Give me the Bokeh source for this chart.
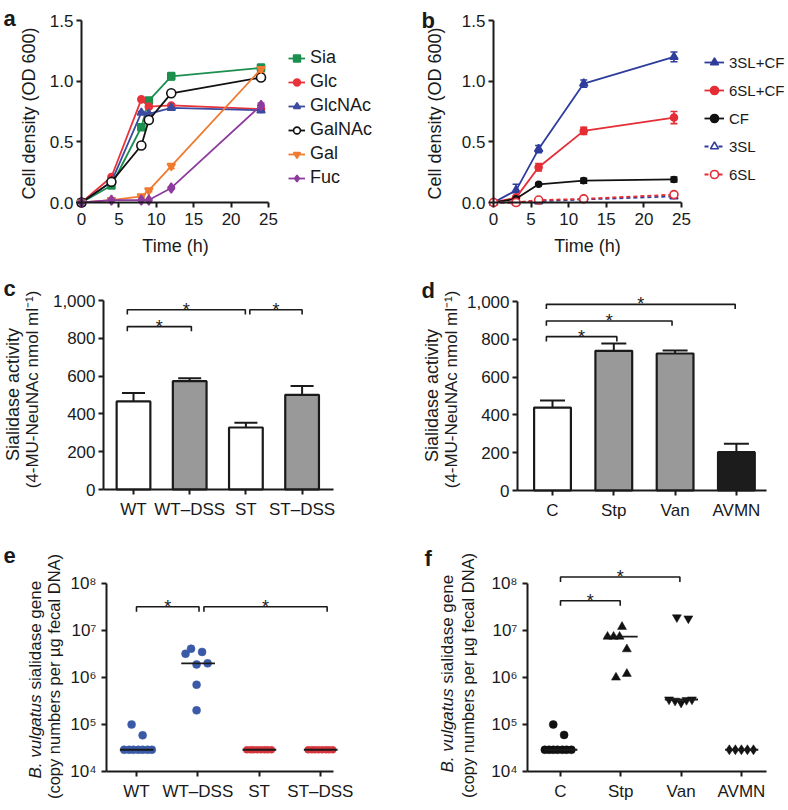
import math
from bokeh.plotting import figure
from bokeh.layouts import column, row
from bokeh.models import (ColumnDataSource, Whisker, TeeHead, Legend, LegendItem, Label,
                          FixedTicker, NumeralTickFormatter, Range1d)
from bokeh.embed import file_html
from bokeh.resources import INLINE
from bokeh.core.properties import value

FONT = "Liberation Sans"
INK = "#1a1a1a"
TICK_PX = "17px"
LAB_PX = "18px"

# ---------------- data: panel a ----------------
a_time = [0, 4, 8, 9, 12, 24]
a_sia = [0, 0.14, 0.62, 0.84, 1.04, 1.11]
a_sia_err = [0, 0.01, 0.02, 0.02, 0.03, 0.03]
a_glc = [0, 0.21, 0.85, 0.79, 0.80, 0.77]
a_glc_err = [0, 0.01, 0.01, 0.01, 0.01, 0.01]
a_glcnac = [0, 0.17, 0.74, 0.73, 0.78, 0.76]
a_glcnac_err = [0, 0.01, 0.01, 0.01, 0.01, 0.01]
a_galnac = [0, 0.17, 0.47, 0.68, 0.90, 1.03]
a_galnac_err = [0, 0.01, 0.01, 0.01, 0.01, 0.01]
a_gal = [0, 0.02, 0.05, 0.10, 0.30, 1.10]
a_gal_err = [0, 0.0, 0.01, 0.01, 0.02, 0.03]
a_fuc = [0, 0.02, 0.02, 0.02, 0.12, 0.80]
a_fuc_err = [0, 0.0, 0.0, 0.0, 0.01, 0.02]

# ---------------- data: panel b ----------------
b_time = [0, 3, 6, 12, 24]
b_3slcf = [0, 0.10, 0.44, 0.98, 1.20]
b_3slcf_err = [0, 0.05, 0.03, 0.03, 0.04]
b_6slcf = [0, 0.04, 0.29, 0.59, 0.70]
b_6slcf_err = [0, 0.01, 0.03, 0.03, 0.05]
b_cf = [0, 0.03, 0.15, 0.18, 0.19]
b_cf_err = [0, 0.0, 0.01, 0.02, 0.02]
b_3sl = [0, 0.0, 0.01, 0.025, 0.05]
b_3sl_err = [0, 0.0, 0.0, 0.005, 0.01]
b_6sl = [0, 0.0, 0.02, 0.03, 0.065]
b_6sl_err = [0, 0.0, 0.0, 0.01, 0.01]

# ---------------- data: panel c ----------------
c_groups = ["WT", "WT\u2013DSS", "ST", "ST\u2013DSS"]
c_mean = [466, 573, 328, 501]
c_err = [45, 16, 25, 46]
c_sig_from = [0, 0, 2]
c_sig_to = [1, 2, 3]
c_sig_y = [862, 951, 951]

# ---------------- data: panel d ----------------
d_groups = ["C", "Stp", "Van", "AVMN"]
d_mean = [439, 739, 725, 203]
d_err = [37, 39, 16, 44]
d_sig_from = [0, 0, 0]
d_sig_to = [1, 2, 3]
d_sig_y = [814, 897, 985]

# ---------------- data: panel e ----------------
e_groups = ["WT", "WT\u2013DSS", "ST", "ST\u2013DSS"]
e_wt = [1.0e5, 5.9e4, 2.9e4, 2.9e4, 2.9e4, 2.9e4, 2.9e4, 2.9e4, 2.9e4]
e_wt_jit = [-0.08, 0.10, -0.20, -0.12, -0.05, 0.03, 0.10, 0.18, 0.25]
e_wtdss = [3.2e6, 4.1e6, 3.5e6, 1.9e6, 2.0e6, 7.0e5, 2.0e5]
e_wtdss_jit = [-0.20, -0.11, 0.07, -0.02, 0.16, -0.02, -0.02]
e_st = [2.9e4, 2.9e4, 2.9e4, 2.9e4, 2.9e4, 2.9e4, 2.9e4, 2.9e4]
e_st_jit = [-0.20, -0.14, -0.09, -0.03, 0.03, 0.09, 0.14, 0.20]
e_stdss = [2.9e4, 2.9e4, 2.9e4, 2.9e4, 2.9e4, 2.9e4, 2.9e4, 2.9e4]
e_stdss_jit = [-0.20, -0.14, -0.09, -0.03, 0.03, 0.09, 0.14, 0.20]
e_median = [2.9e4, 2.0e6, 2.9e4, 2.9e4]
e_sig_from = [0, 1]
e_sig_to = [1, 3]
e_sig_y = [3.2e7, 3.2e7]

# ---------------- data: panel f ----------------
f_groups = ["C", "Stp", "Van", "AVMN"]
f_c = [1.0e5, 6.0e4, 2.9e4, 2.9e4, 2.9e4, 2.9e4, 2.9e4, 2.9e4, 2.9e4]
f_c_jit = [-0.12, 0.06, -0.26, -0.19, -0.12, -0.05, 0.03, 0.10, 0.18]
f_stp = [1.2e7, 7.4e6, 7.4e6, 7.4e6, 4.0e6, 1.0e6, 1.2e6]
f_stp_jit = [0.02, -0.22, -0.12, -0.02, 0.10, -0.08, 0.10]
f_van = [1.9e7, 1.8e7, 3.4e5, 3.2e5, 2.9e5, 3.3e5, 3.4e5]
f_van_jit = [-0.07, 0.12, -0.20, -0.10, 0.0, 0.09, 0.18]
f_avmn = [2.9e4, 2.9e4, 2.9e4, 2.9e4, 2.9e4]
f_avmn_jit = [-0.20, -0.10, 0.0, 0.10, 0.20]
f_median = [2.9e4, 7.4e6, 3.4e5, 2.9e4]
f_sig_from = [0, 0]
f_sig_to = [1, 2]
f_sig_y = [4.3e7, 1.38e8]

ROT = math.pi / 2


def span_x(v0, p0, v1, p1, size):
    s = (p1 - p0) / (v1 - v0)
    return (v0 - p0 / s, v0 + (size - p0) / s)


def span_y(v0, p0, v1, p1, size):
    # p0, p1: pixel rows (from top) of values v0 < v1
    s = (p0 - p1) / (v1 - v0)
    return (v0 - (size - p0) / s, v0 + p0 / s)


def span_ylog(v0, p0, v1, p1, size):
    lo, hi = span_y(math.log10(v0), p0, math.log10(v1), p1, size)
    return (10 ** lo, 10 ** hi)


def quad(w, h, xr, yr, x_at, y_at, xb, yb, ylog=False):
    p = figure(width=w, height=h, x_range=Range1d(*xr), y_range=Range1d(*yr),
               y_axis_type="log" if ylog else "linear",
               output_backend="svg", toolbar_location=None,
               min_border_left=0, min_border_right=0, min_border_top=0, min_border_bottom=0)
    p.title.visible = False
    p.xgrid.visible = False
    p.ygrid.visible = False
    p.outline_line_color = None
    p.background_fill_color = "white"
    p.border_fill_color = "white"
    xa, ya = p.xaxis[0], p.yaxis[0]
    xa.fixed_location = x_at
    ya.fixed_location = y_at
    xa.bounds = xb
    ya.bounds = yb
    for ax in (xa, ya):
        ax.axis_line_width = 2
        ax.axis_line_color = INK
        ax.major_tick_line_width = 2
        ax.major_tick_line_color = INK
        ax.major_tick_in = 0
        ax.major_tick_out = 5
        ax.minor_tick_line_color = None
        ax.major_label_text_font = FONT
        ax.major_label_text_font_size = TICK_PX
        ax.major_label_text_color = INK
    return p


def put(p, h, text, sx, sy, size=LAB_PX, align="left", baseline="alphabetic",
        angle=0.0, style="normal"):
    p.add_layout(Label(x=sx, y=h - sy, x_units="screen", y_units="screen",
                       text=text, text_font=FONT, text_font_size=size,
                       text_align=align, text_baseline=baseline, angle=angle,
                       text_font_style=style, text_color=INK))


def series(p, x, y, err, color, marker, size, fill, dash="solid"):
    src = ColumnDataSource(dict(x=x, y=y))
    ln = p.line("x", "y", source=src, line_color=color, line_width=1.8, line_dash=dash)
    ex = [xi for xi, e in zip(x, err) if e > 0]
    lo = [yi - e for yi, e in zip(y, err) if e > 0]
    hi = [yi + e for yi, e in zip(y, err) if e > 0]
    if ex:
        esrc = ColumnDataSource(dict(x=ex, lo=lo, hi=hi))
        p.add_layout(Whisker(source=esrc, base="x", lower="lo", upper="hi",
                             line_color=color, line_width=1.6,
                             upper_head=TeeHead(size=7, line_color=color, line_width=1.6),
                             lower_head=TeeHead(size=7, line_color=color, line_width=1.6)))
    sc = p.scatter("x", "y", source=src, marker=marker, size=size, fill_color=fill,
                   line_color=color, line_width=1.6)
    return [ln, sc]


def brackets(p, x0s, x1s, ys, tip, log=False):
    xs, yy = [], []
    for a, b, y in zip(x0s, x1s, ys):
        yt = y / (10 ** tip) if log else y - tip
        xs.append([a, a, b, b])
        yy.append([yt, y, y, yt])
    p.multi_line(xs, yy, line_color=INK, line_width=1.6)
    p.text(x=[(a + b) / 2 for a, b in zip(x0s, x1s)], y=ys, text=["*"] * len(ys),
           text_font=value(FONT), text_font_size=value("18px"), text_color=INK,
           text_align="center", text_baseline="alphabetic", y_offset=0)


def style_cat_axis(p, labels, standoff=5):
    p.xaxis.ticker = FixedTicker(ticks=list(range(len(labels))))
    p.xaxis.major_label_overrides = {i: lab for i, lab in enumerate(labels)}
    p.xaxis.major_label_standoff = standoff


def make_legend(items, loc, spacing, size, glyph_w):
    return Legend(items=[LegendItem(label=l, renderers=r) for l, r in items],
                  location=loc, padding=0, margin=0, spacing=spacing,
                  glyph_width=glyph_w, glyph_height=20, label_height=20, label_standoff=5,
                  label_text_font=FONT, label_text_font_size=size, label_text_color=INK,
                  border_line_color=None, background_fill_alpha=0)


WL, WR = 394, 392
H1, H2, H3 = 270, 270, 268

# ================= panel a =================
pa = quad(WL, H1, span_x(0, 81, 25, 268, WL), span_y(0, 202, 1.5, 20, H1),
          0, 0, (0, 25), (0, 1.5))
pa.xaxis.ticker = FixedTicker(ticks=[0, 5, 10, 15, 20, 25])
pa.yaxis.ticker = FixedTicker(ticks=[0, 0.5, 1.0, 1.5])
pa.yaxis.formatter = NumeralTickFormatter(format="0.0")
pa.xaxis.major_label_standoff = 5
pa.yaxis.major_label_standoff = 3
items_a = [
    ("Sia", series(pa, a_time, a_sia, a_sia_err, "#1b8f4e", "square", 7, "#1b8f4e")),
    ("Glc", series(pa, a_time, a_glc, a_glc_err, "#e8333b", "circle", 7, "#e8333b")),
    ("GlcNAc", series(pa, a_time, a_glcnac, a_glcnac_err, "#3b4ba0", "triangle", 8, "#3b4ba0")),
    ("GalNAc", series(pa, a_time, a_galnac, a_galnac_err, "#111111", "circle", 9, "white")),
    ("Gal", series(pa, a_time, a_gal, a_gal_err, "#f07a30", "inverted_triangle", 8, "#f07a30")),
    ("Fuc", series(pa, a_time, a_fuc, a_fuc_err, "#8e3b9e", "diamond", 10, "#8e3b9e")),
]
pa.add_layout(make_legend(items_a, (288, H1 - 188), 3, "18px", 17))
put(pa, H1, "a", 3, 18, size="22px", style="bold")
put(pa, H1, "Cell density (OD 600)", 28, 113, align="center", baseline="middle", angle=ROT)
put(pa, H1, "Time (h)", 175, 245, align="center", baseline="middle")

# ================= panel b =================
pb = quad(WR, H1, span_x(0, 99, 25, 287, WR), span_y(0, 202, 1.5, 20, H1),
          0, 0, (0, 25), (0, 1.5))
pb.xaxis.ticker = FixedTicker(ticks=[0, 5, 10, 15, 20, 25])
pb.yaxis.ticker = FixedTicker(ticks=[0, 0.5, 1.0, 1.5])
pb.yaxis.formatter = NumeralTickFormatter(format="0.0")
pb.xaxis.major_label_standoff = 5
pb.yaxis.major_label_standoff = 3
items_b = [
    ("3SL+CF", series(pb, b_time, b_3slcf, b_3slcf_err, "#2e3d9b", "triangle", 8, "#2e3d9b")),
    ("6SL+CF", series(pb, b_time, b_6slcf, b_6slcf_err, "#e52d35", "circle", 7, "#e52d35")),
    ("CF", series(pb, b_time, b_cf, b_cf_err, "#111111", "circle", 6, "#111111")),
    ("3SL", series(pb, b_time, b_3sl, b_3sl_err, "#2e3d9b", "triangle", 8, "white", dash="4 3")),
    ("6SL", series(pb, b_time, b_6sl, b_6sl_err, "#e52d35", "circle", 8, "white", dash="4 3")),
]
pb.add_layout(make_legend(items_b, (310, H1 - 184), 8, "15px", 20))
put(pb, H1, "b", 27, 20, size="22px", style="bold")
put(pb, H1, "Cell density (OD 600)", 40, 113, align="center", baseline="middle", angle=ROT)
put(pb, H1, "Time (h)", 193, 245, align="center", baseline="middle")

# ================= panel c =================
c_xr = span_x(0, 133, 1, 189.2, WL)
pc = quad(WL, H2, c_xr, span_y(0, 219, 1000, 30, H2), 0, -0.534, (-0.534, 3.55), (0, 1000))
pc.yaxis.ticker = FixedTicker(ticks=[0, 200, 400, 600, 800, 1000])
pc.yaxis.formatter = NumeralTickFormatter(format="0,0")
pc.yaxis.major_label_standoff = 3
style_cat_axis(pc, c_groups, 5)
c_x = list(range(len(c_groups)))
c_src = ColumnDataSource(dict(x=c_x, top=c_mean, hi=[m + e for m, e in zip(c_mean, c_err)],
                              fill=["white", "#999999", "white", "#999999"]))
pc.vbar(x="x", top="top", bottom=0, width=0.6, fill_color="fill", line_color=INK,
        line_width=2.2, source=c_src)
pc.add_layout(Whisker(source=c_src, base="x", lower="top", upper="hi", lower_head=None,
                      upper_head=TeeHead(size=23, line_color=INK, line_width=2),
                      line_color=INK, line_width=2))
brackets(pc, [f + d for f, d in zip(c_sig_from, [-0.11, -0.11, 0.07])],
         [t + d for t, d in zip(c_sig_to, [0.03, -0.01, 0.0])], c_sig_y, 25)
put(pc, H2, "c", 3, 18, size="22px", style="bold")
put(pc, H2, "Sialidase activity", 12, 124, align="center", baseline="middle", angle=ROT)
put(pc, H2, "(4-MU-NeuNAc nmol ml\u207b\u00b9)", 32, 119, size="17px", align="center",
    baseline="middle", angle=ROT)

# ================= panel d =================
d_xr = span_x(0, 158, 1, 219.3, WR)
pd_ = quad(WR, H2, d_xr, span_y(0, 220, 1000, 31, H2), 0, -0.571, (-0.571, 3.49), (0, 1000))
pd_.yaxis.ticker = FixedTicker(ticks=[0, 200, 400, 600, 800, 1000])
pd_.yaxis.formatter = NumeralTickFormatter(format="0,0")
pd_.yaxis.major_label_standoff = 3
style_cat_axis(pd_, d_groups, 5)
d_x = list(range(len(d_groups)))
d_src = ColumnDataSource(dict(x=d_x, top=d_mean, hi=[m + e for m, e in zip(d_mean, d_err)],
                              fill=["white", "#999999", "#999999", "#1c1c1c"]))
pd_.vbar(x="x", top="top", bottom=0, width=0.6, fill_color="fill", line_color=INK,
         line_width=2.2, source=d_src)
pd_.add_layout(Whisker(source=d_src, base="x", lower="top", upper="hi", lower_head=None,
                       upper_head=TeeHead(size=25, line_color=INK, line_width=2),
                       line_color=INK, line_width=2))
brackets(pd_, [f - 0.1 for f in d_sig_from],
         [t + d for t, d in zip(d_sig_to, [0.05, -0.05, -0.02])], d_sig_y, 25)
put(pd_, H2, "d", 27, 20, size="22px", style="bold")
put(pd_, H2, "Sialidase activity", 37, 125, align="center", baseline="middle", angle=ROT)
put(pd_, H2, "(4-MU-NeuNAc nmol ml\u207b\u00b9)", 57, 119, size="17px", align="center",
    baseline="middle", angle=ROT)

# ================= panels e / f =================
log_labels = {10000: "10\u2074", 100000: "10\u2075", 1000000: "10\u2076",
              10000000: "10\u2077", 100000000: "10\u2078"}
e_yr = span_ylog(1e4, 231, 1e8, 43, H3)


def log_axis(p):
    p.yaxis.ticker = FixedTicker(ticks=[10000, 100000, 1000000, 10000000, 100000000])
    p.yaxis.major_label_overrides = log_labels
    p.yaxis.major_label_standoff = 5


def ylabel_log(p, h, x1, junction, x2, c2):
    put(p, h, "B. vulgatus", x1, junction, size="17px", align="right", baseline="middle",
        angle=ROT, style="italic")
    put(p, h, "sialidase gene", x1, junction - 5, size="17px", align="left",
        baseline="middle", angle=ROT)
    put(p, h, "(copy numbers per \u00b5g fecal DNA)", x2, c2, size="16.5px", align="center",
        baseline="middle", angle=ROT)


def dots(p, idx, vals, jit, marker, size, color):
    p.scatter(x=[idx + j for j in jit], y=vals, marker=marker, size=size,
              fill_color=color, line_color=color, line_width=0.5)


def medians(p, meds, color=INK):
    n = len(meds)
    p.segment(x0=[i - 0.27 for i in range(n)], x1=[i + 0.28 for i in range(n)],
              y0=meds, y1=meds, line_color=color, line_width=1.8)


pe = quad(WL, H3, span_x(0, 136, 1, 197.3, WL), e_yr, 1e4, -0.489, (-0.489, 3.21),
          (1e4, 1e8), ylog=True)
log_axis(pe)
style_cat_axis(pe, e_groups, 5)
BLUE = "#3a5aa8"
RED = "#d8353c"
dots(pe, 0, e_wt, e_wt_jit, "circle", 8, BLUE)
dots(pe, 1, e_wtdss, e_wtdss_jit, "circle", 8, BLUE)
dots(pe, 2, e_st, e_st_jit, "circle", 7, RED)
dots(pe, 3, e_stdss, e_stdss_jit, "circle", 7, RED)
medians(pe, e_median)
brackets(pe, [f + d for f, d in zip(e_sig_from, [0.0, 0.10])],
         [t + d for t, d in zip(e_sig_to, [0.02, 0.11])], e_sig_y, 0.106, log=True)
put(pe, H3, "e", 3, 15, size="22px", style="bold")
ylabel_log(pe, H3, 35, 154, 53, 136)

pf = quad(WR, H3, span_x(0, 166, 1, 226.3, WR), e_yr, 1e4, -0.547, (-0.547, 3.41),
          (1e4, 1e8), ylog=True)
log_axis(pf)
style_cat_axis(pf, f_groups, 5)
dots(pf, 0, f_c, f_c_jit, "circle", 8, "#111111")
dots(pf, 1, f_stp, f_stp_jit, "triangle", 9, "#111111")
dots(pf, 2, f_van, f_van_jit, "inverted_triangle", 9, "#111111")
dots(pf, 3, f_avmn, f_avmn_jit, "diamond", 10, "#111111")
medians(pf, f_median)
brackets(pf, [f + 0.0 for f in f_sig_from],
         [t + d for t, d in zip(f_sig_to, [-0.01, -0.02])], f_sig_y, 0.106, log=True)
put(pf, H3, "f", 30, 18, size="22px", style="bold")
ylabel_log(pf, H3, 53, 148, 73, 135)

layout = column(row(pa, pb), row(pc, pd_), row(pe, pf))
open("out.html", "w").write(file_html(layout, INLINE))
